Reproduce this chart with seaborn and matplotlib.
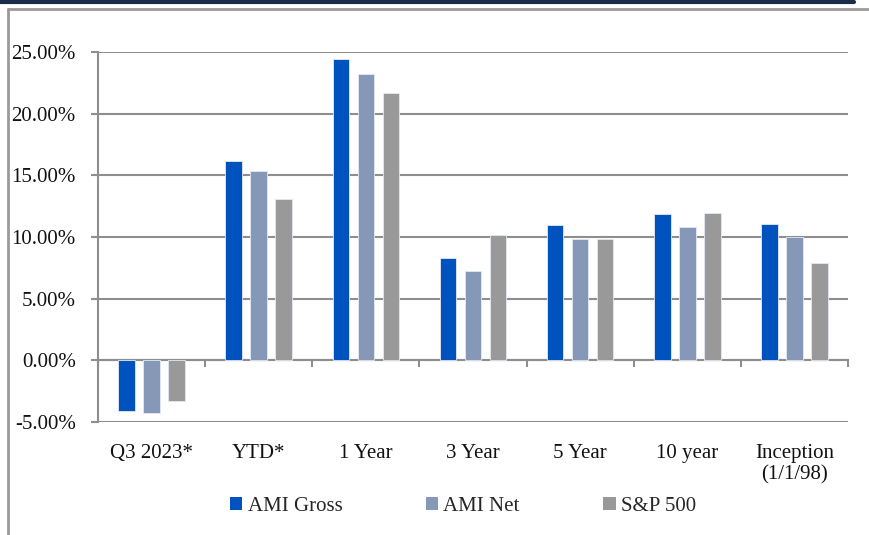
import pandas as pd
import seaborn as sns
import matplotlib.pyplot as plt
from matplotlib.lines import Line2D
from matplotlib.patches import Patch
from matplotlib.ticker import FixedLocator, FuncFormatter
import numpy as np

periods = ['Q3 2023*', 'YTD*', '1 Year', '3 Year', '5 Year', '10 year', 'Inception\n(1/1/98)']
ami_gross = [-4.08, 16.15, 24.41, 8.27, 10.95, 11.86, 11.05]
ami_net = [-4.30, 15.33, 23.25, 7.23, 9.84, 10.78, 9.97]
sp500 = [-3.30, 13.08, 21.65, 10.15, 9.86, 11.92, 7.92]
series = ['AMI Gross', 'AMI Net', 'S&P 500']
colors = ['#0052BF', '#8598B8', '#999999']

df = pd.DataFrame({
    'period': periods * 3,
    'series': [s for s in series for _ in periods],
    'value': ami_gross + ami_net + sp500,
})

sns.set_theme(style='white')
plt.rcParams['font.family'] = ['Liberation Serif', 'DejaVu Serif']
gray = '#8e8e8e'

fig = plt.figure(figsize=(8.7, 5.35), dpi=100)
ax = fig.add_axes([0.1126, 0.2112, 0.8621, 0.6916])

sns.barplot(data=df, x='period', y='value', hue='series', hue_order=series,
            palette=colors, saturation=1, width=0.7, gap=0.335, edgecolor='#e4eaf3',
            linewidth=0.6, legend=False, ax=ax, zorder=3)

ax.set_xlim(-0.5, len(periods) - 0.5)
ax.set_ylim(-5, 25)
ax.set_yticks(np.arange(-5, 26, 5))
ax.yaxis.set_major_formatter(FuncFormatter(lambda v, p: f'{v:.2f}%'))
ax.grid(axis='y', color=gray, linewidth=1.5, zorder=0)
ax.grid(axis='x', visible=False)
ax.set_xlabel('')
ax.set_ylabel('')

for s in ['top', 'right']:
    ax.spines[s].set_visible(False)
ax.spines['left'].set_color(gray)
ax.spines['left'].set_linewidth(1.5)
ax.spines['bottom'].set_position(('data', 0))
ax.spines['bottom'].set_color(gray)
ax.spines['bottom'].set_linewidth(1.5)

ax.xaxis.set_minor_locator(FixedLocator(np.arange(len(periods) + 1) - 0.5))
ax.tick_params(axis='x', which='major', length=0, pad=60, labelsize=15, colors='#111111')
ax.tick_params(axis='x', which='minor', bottom=True, length=5, width=1.5, color=gray, direction='out')
ax.tick_params(axis='y', left=True, length=5, width=1.5, color=gray, pad=11, labelsize=15,
               labelcolor='#111111')
for lbl in ax.get_xticklabels():
    lbl.set_verticalalignment('top')
    lbl.set_linespacing(1.2)

handles = [Patch(facecolor=c, edgecolor='none') for c in colors]
fig.legend(handles, series, loc='center', bbox_to_anchor=(0.532, 0.054), ncol=3,
           frameon=False, prop={'family': ['Liberation Serif', 'DejaVu Serif'], 'size': 15},
           handlelength=0.6, handleheight=0.6, handletextpad=0.25, columnspacing=4.0)

# page decorations around the chart
fig.add_artist(Line2D([0, 854 / 870], [1 - 1.5 / 535] * 2, color='#1b2d4b', linewidth=3))
fig.add_artist(Line2D([8 / 870, 1], [1 - 9 / 535] * 2, color='#9a9a9a', linewidth=2))
fig.add_artist(Line2D([8 / 870] * 2, [0, 1 - 9 / 535], color='#9a9a9a', linewidth=2))

fig.savefig('out.png', dpi=100)
